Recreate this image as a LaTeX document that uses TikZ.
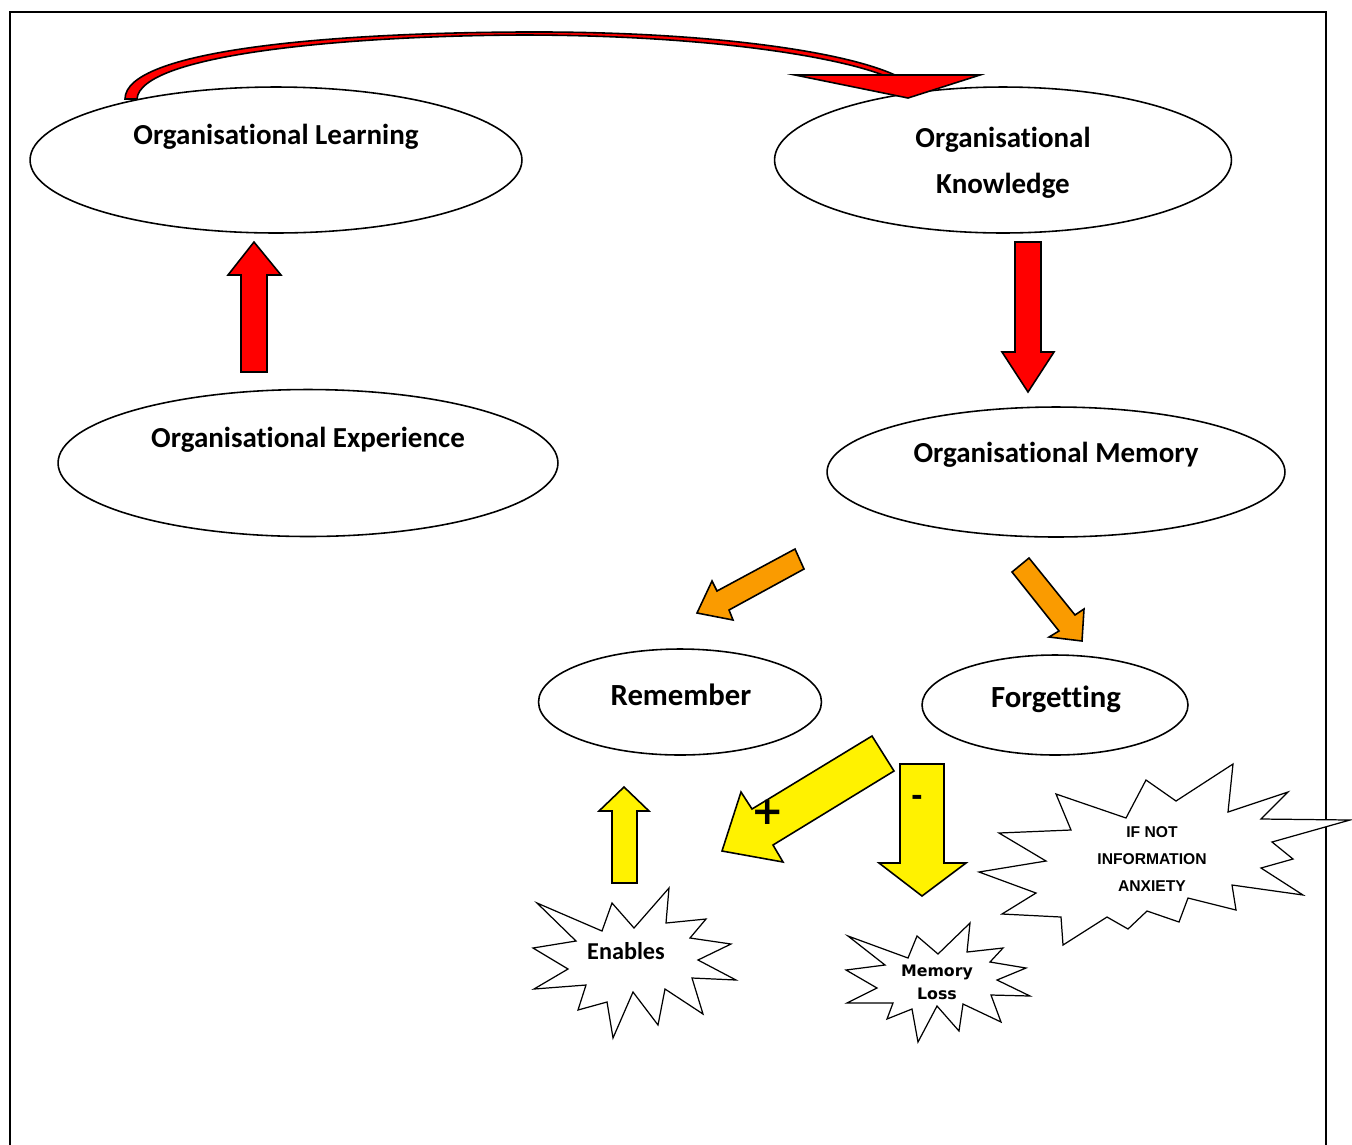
\documentclass[tikz,border=0pt]{standalone}
\usepackage{fontspec}
\setmainfont[Ligatures=NoCommon]{Carlito}
\newfontfamily\arialfont{Liberation Sans}
\newfontfamily\dejafont{DejaVu Sans}
\usepackage{tikz}
\usetikzlibrary{shapes.geometric}
\definecolor{orangefill}{RGB}{250,155,0}

\begin{document}
\begin{tikzpicture}[x=0.02cm,y=-0.02cm,line width=0.9pt,line join=miter]
  \tikzstyle{oval}=[draw,ellipse,inner sep=0pt]
  \tikzstyle{bigtext}=[inner sep=0pt,align=center,font=\fontsize{16.5}{26}\selectfont\bfseries]
  \tikzstyle{signtext}=[inner sep=0pt,font=\dejafont\fontsize{16}{18}\selectfont\bfseries]
  \tikzstyle{redarrow}=[draw,fill=red]
  \tikzstyle{orangearrow}=[draw,fill=orangefill]
  \tikzstyle{yellowarrow}=[draw,fill=yellow]
  \tikzstyle{burst}=[draw,fill=white,line width=0.7pt]
%  \tikzstyle{every node}=[draw=none]

  \useasboundingbox (0,0) rectangle (1352,1144);
  \draw (10,1160) -- (10,12) -- (1326,12) -- (1326,1160);

  \node[oval, minimum width=9.84cm, minimum height=2.92cm] (learn)    at (276,160)  {};
  \node[oval, minimum width=9.14cm, minimum height=2.92cm] (know)     at (1003,160) {};
  \node[oval, minimum width=10.0cm, minimum height=2.94cm] (exper)    at (308,463)  {};
  \node[oval, minimum width=9.16cm, minimum height=2.60cm] (memory)   at (1056,472) {};
  \node[oval, minimum width=5.66cm, minimum height=2.12cm] (remember) at (680,702)  {};
  \node[oval, minimum width=5.32cm, minimum height=2.00cm] (forget)   at (1055,705) {};

  \node[bigtext] (learntext)  at (276,137)  {Organisational Learning};
  \node[bigtext] (knowtext)   at (1003,163) {Organisational\\Knowledge};
  \node[bigtext] (expertext)  at (308,440)  {Organisational Experience};
  \node[bigtext] (memorytext) at (1056,455) {Organisational Memory};
  \node[bigtext, font=\fontsize{17.5}{20}\selectfont\bfseries] (remembertext) at (681,695) {Remember};
  \node[bigtext, font=\fontsize{17.5}{20}\selectfont\bfseries] (forgettext)   at (1056,699) {Forgetting};

  % curved arrow from learning to knowledge
  \path[redarrow] (125,99) .. controls (125,50) and (330,33) .. (521,32)
                  .. controls (700,31) and (840,50) .. (895,75)
                  -- (883,75) .. controls (830,55) and (700,35) .. (521,35)
                  .. controls (340,36) and (140,55) .. (137,99) -- cycle;
  \path[redarrow] (795,75) -- (980,75) -- (908,98) -- cycle;

  \path[redarrow] (241,372) -- (241,275) -- (228,275) -- (254,242) -- (281,275)
                  -- (267,275) -- (267,372) -- cycle;
  \path[redarrow] (1015,242) -- (1041,242) -- (1041,352) -- (1054,352) -- (1028,392)
                  -- (1002,352) -- (1015,352) -- cycle;

  \path[orangearrow] (795,549) -- (804,569) -- (729,610) -- (733,620) -- (697,613)
                     -- (712,581) -- (717,591) -- cycle;
  \path[orangearrow] (1029,558) -- (1075,615) -- (1084,609) -- (1082,641) -- (1049,637)
                     -- (1059,631) -- (1012,572) -- cycle;

  \path[yellowarrow] (612,883) -- (612,811) -- (599,811) -- (624,787) -- (649,811)
                     -- (637,811) -- (637,883) -- cycle;
  \path[yellowarrow] (872,736) -- (894,771) -- (773,845) -- (783,862) -- (722,851)
                     -- (741,792) -- (752,809) -- cycle;
  \path[yellowarrow] (900,764) -- (944,764) -- (944,863) -- (966,863) -- (922,896)
                     -- (879,863) -- (900,863) -- cycle;
  \node[signtext, font=\dejafont\fontsize{22}{24}\selectfont\bfseries] (plus) at (768,812) {+};
  \node[signtext] (minus) at (917,800) {-};

  % starbursts
  \path[burst] (537,903) -- (602,931) -- (612,903) -- (634,928) -- (669,888) -- (666,923)
               -- (706,919) -- (690,938) -- (731,944) -- (698,960) -- (736,980) -- (692,978)
               -- (703,1014) -- (665,989) -- (658,1025) -- (633,992) -- (613,1038) -- (607,1002)
               -- (578,1010) -- (586,985) -- (534,989) -- (568,969) -- (533,948) -- (576,941) -- cycle;
  \node[inner sep=0pt, font=\fontsize{13.8}{16}\selectfont\bfseries] (enables) at (626,951) {Enables};

  \path[burst] (848,936) -- (908,958) -- (917,936) -- (938,954) -- (970,923) -- (967,952)
               -- (1003,948) -- (990,962) -- (1026,968) -- (997,980) -- (1030,996) -- (991,995)
               -- (1001,1022) -- (963,1004) -- (959,1031) -- (937,1006) -- (918,1042) -- (912,1009)
               -- (887,1019) -- (893,1003) -- (847,1003) -- (877,988) -- (846,970) -- (885,965) -- cycle;
  \node[inner sep=0pt, align=center, font=\dejafont\fontsize{9}{13}\selectfont\bfseries]
       (memloss) at (937,982) {Memory\\Loss};

  \path[burst] (1056,794) -- (1126,818) -- (1146,780) -- (1176,801) -- (1233,764) -- (1228,812)
               -- (1288,792) -- (1261,819) -- (1350,820) -- (1272,842) -- (1293,859) -- (1261,868)
               -- (1303,895) -- (1232,885) -- (1236,910) -- (1188,898) -- (1179,922) -- (1147,911)
               -- (1128,929) -- (1107,917) -- (1063,945) -- (1061,917) -- (1002,914) -- (1036,893)
               -- (979,872) -- (1046,861) -- (999,833) -- (1071,830) -- cycle;
  \node[inner sep=0pt, align=center, font=\arialfont\fontsize{8.9}{15.6}\selectfont\bfseries]
       (anxiety) at (1152,859) {IF NOT\\INFORMATION\\ANXIETY};

\end{tikzpicture}
\end{document}
